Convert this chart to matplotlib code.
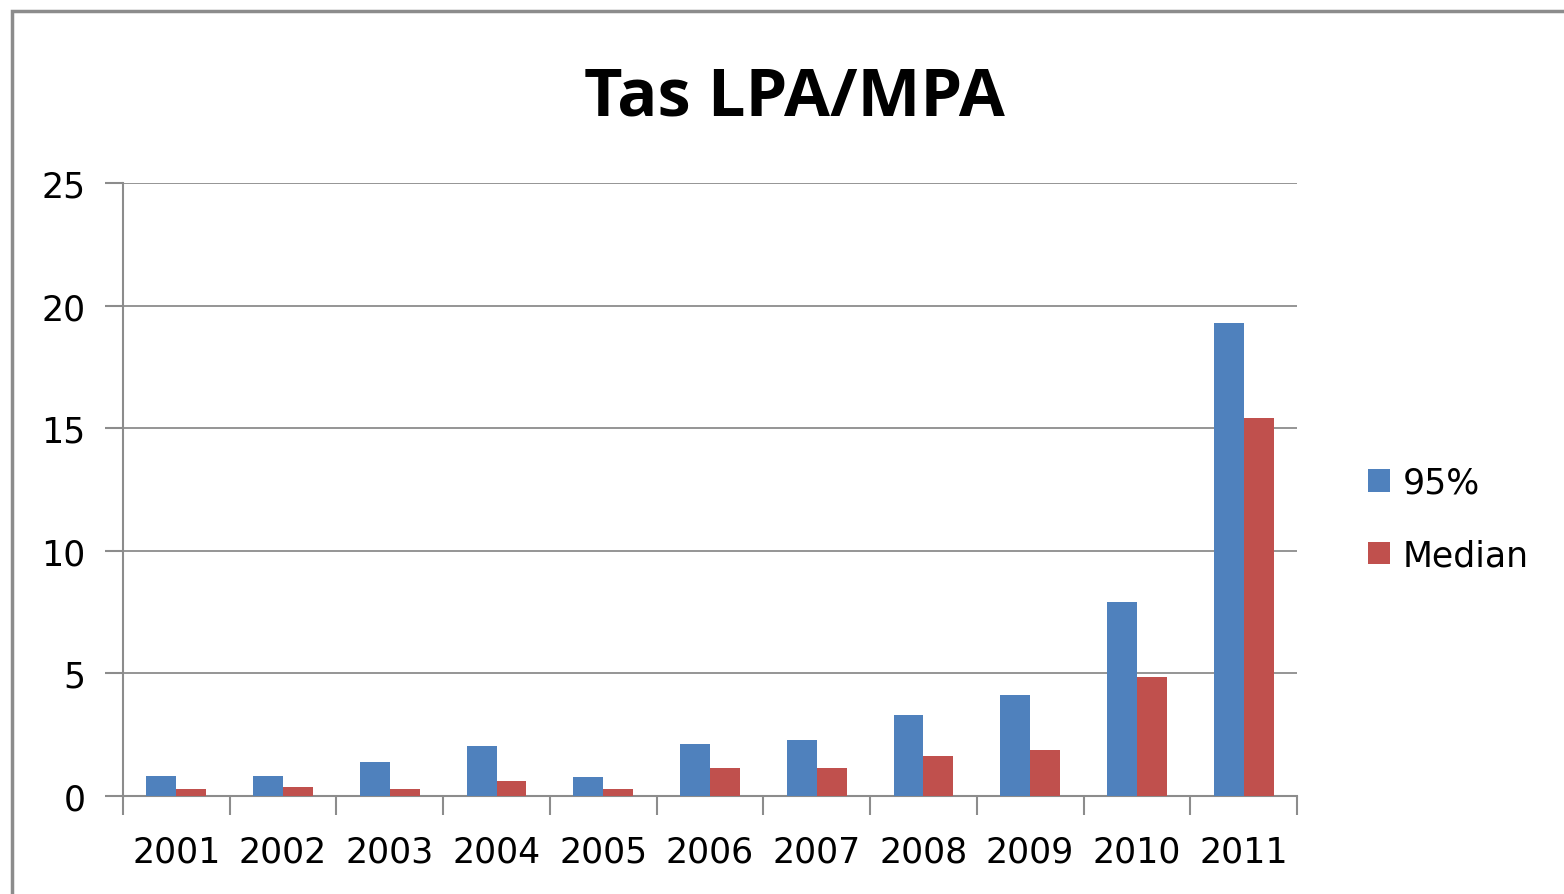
import numpy as np
import matplotlib.pyplot as plt
from matplotlib.patches import Rectangle

years = ['2001', '2002', '2003', '2004', '2005', '2006',
         '2007', '2008', '2009', '2010', '2011']
p95 = [0.83, 0.83, 1.40, 2.05, 0.76, 2.11, 2.27, 3.32, 4.13, 7.91, 19.28]
median = [0.27, 0.35, 0.27, 0.60, 0.27, 1.14, 1.14, 1.63, 1.86, 4.85, 15.42]

blue = '#4F81BD'
red = '#C0504D'
gray = '#8c8c8c'

fig = plt.figure(figsize=(15.64, 8.95), dpi=100)
ax = fig.add_axes([123 / 1564, 98 / 895, 1174 / 1564, 613 / 895])

x = np.arange(len(years))
w = 0.28
ax.bar(x - w / 2, p95, w, color=blue, label='95%', zorder=3)
ax.bar(x + w / 2, median, w, color=red, label='Median', zorder=3)

ax.set_xlim(-0.5, len(years) - 0.5)
ax.set_ylim(0, 25)
ax.set_yticks([0, 5, 10, 15, 20, 25])
ax.yaxis.grid(True, color=gray, linewidth=1.3, zorder=0)

ax.set_xticks(np.arange(-0.5, len(years), 1))
ax.set_xticklabels([])
ax.set_xticks(x, minor=True)
ax.set_xticklabels(years, minor=True, fontsize=25, fontfamily='DejaVu Sans')
ax.tick_params(axis='x', which='major', length=14, width=1.5, color=gray)
ax.tick_params(axis='x', which='minor', length=0, pad=28)
ax.tick_params(axis='y', length=13, width=1.5, color=gray, labelsize=25, pad=14)

for s in ['top', 'right']:
    ax.spines[s].set_visible(False)
for s in ['left', 'bottom']:
    ax.spines[s].set_color(gray)
    ax.spines[s].set_linewidth(1.5)

fig.text(794 / 1564, 1 - 115 / 895, 'Tas LPA/MPA', ha='center', va='baseline',
         fontsize=48, fontweight='bold', fontfamily='Open Sans')

fig.legend(loc='center left', bbox_to_anchor=(1351 / 1564, 1 - 520 / 895),
           frameon=False, fontsize=25, borderpad=0, handlelength=0.63,
           handleheight=0.63, handletextpad=0.35, labelspacing=1.1)

fig.patches.append(Rectangle((11.5 / 1564, -0.1), 1.2, 1 - 12 / 895 + 0.1,
                             transform=fig.transFigure, fill=False,
                             edgecolor=gray, linewidth=2.5))

fig.savefig('out.png', dpi=100)
